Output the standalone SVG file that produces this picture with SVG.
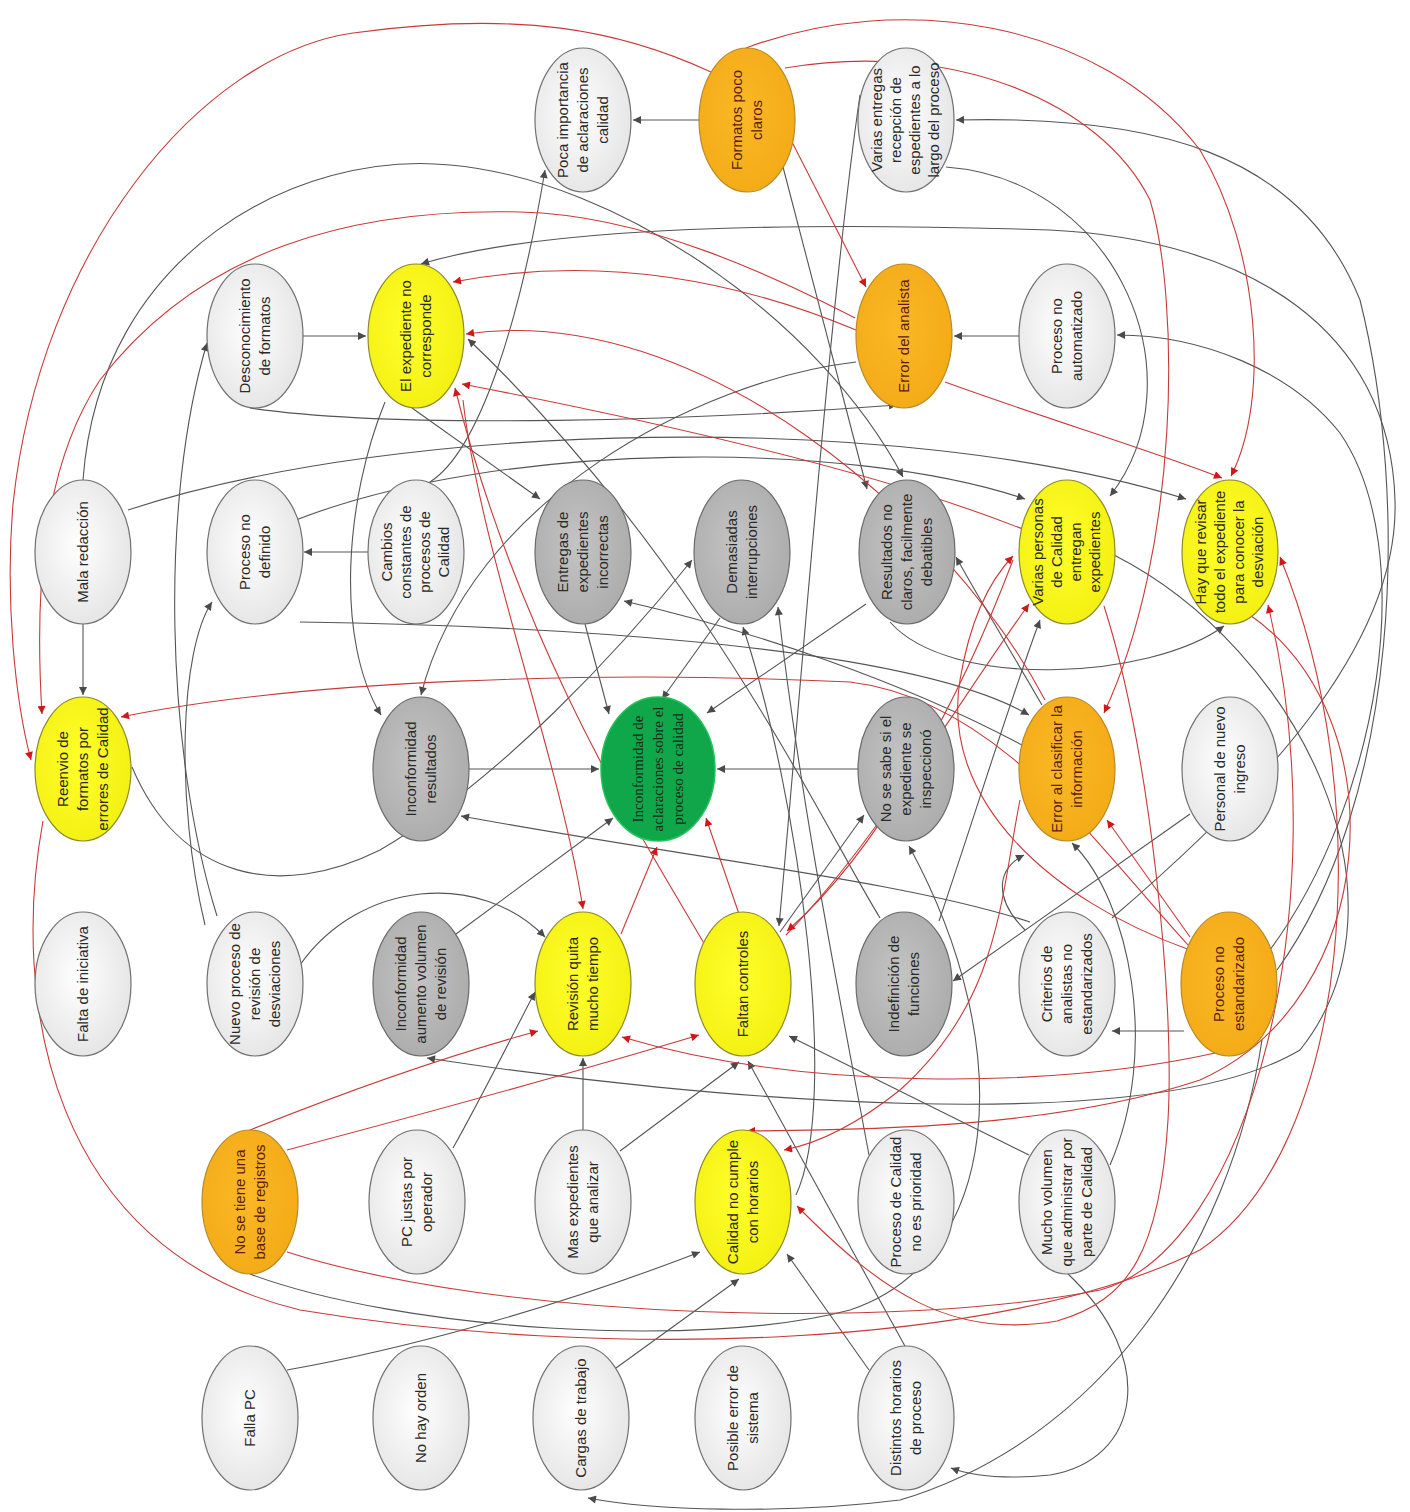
<svg xmlns="http://www.w3.org/2000/svg" width="1410" height="1512" viewBox="0 0 1410 1512">
<defs>
<radialGradient id="gLight" cx="45%" cy="45%" r="65%"><stop offset="0" stop-color="#ffffff"/><stop offset="1" stop-color="#e2e2e2"/></radialGradient>
<radialGradient id="gGray" cx="45%" cy="45%" r="65%"><stop offset="0" stop-color="#c4c4c4"/><stop offset="1" stop-color="#a9a9a9"/></radialGradient>
<radialGradient id="gYel" cx="45%" cy="45%" r="65%"><stop offset="0" stop-color="#ffff2a"/><stop offset="1" stop-color="#f2ee10"/></radialGradient>
<radialGradient id="gOr" cx="45%" cy="45%" r="65%"><stop offset="0" stop-color="#fbb826"/><stop offset="1" stop-color="#f3a916"/></radialGradient>
<marker id="ag" viewBox="0 0 10 10" refX="10" refY="5" markerWidth="10" markerHeight="8" markerUnits="userSpaceOnUse" orient="auto"><path d="M0,0 L10,5 L0,10 z" fill="#4a4a4a"/></marker>
<marker id="ar" viewBox="0 0 10 10" refX="10" refY="5" markerWidth="10" markerHeight="8" markerUnits="userSpaceOnUse" orient="auto"><path d="M0,0 L10,5 L0,10 z" fill="#d01818"/></marker>
</defs>
<style>
.g{fill:none;stroke:#555;stroke-width:1.1;marker-end:url(#ag)}
.r{fill:none;stroke:#c83a3a;stroke-width:1.1;marker-end:url(#ar)}
.nl{fill:url(#gLight);stroke:#707070;stroke-width:1.2}
.ng{fill:url(#gGray);stroke:#6a6a6a;stroke-width:1.2}
.ny{fill:url(#gYel);stroke:#8c8a2a;stroke-width:1.2}
.no{fill:url(#gOr);stroke:#b88a28;stroke-width:1.2}
.nc{fill:#10a64a;stroke:#22c35a;stroke-width:1.5}
text{font-family:"Liberation Sans",Arial,sans-serif;font-size:15px;fill:#2a2a2a;text-anchor:middle}
.to{fill:#5a1e0c}
.tc{font-family:"Liberation Serif","Times New Roman",serif;font-size:15px;fill:#1a2a1a}
</style>
<rect width="1410" height="1512" fill="#ffffff"/>
<g id="connectors">
<path class="g" d="M699,120 L633,120"/>
<path class="g" d="M303,336 L366,336"/>
<path class="g" d="M1019,336 L954,336"/>
<path class="g" d="M370,552 L304,552"/>
<path class="g" d="M83,624 L83,695"/>
<path class="g" d="M469,769 L599,769"/>
<path class="g" d="M858,769 L717,769"/>
<path class="g" d="M583,1130 L583,1058"/>
<path class="g" d="M1184,1031 L1112,1031"/>
<path class="g" d="M585,624 L609,714"/>
<path class="g" d="M720,618 L662,699"/>
<path class="g" d="M866,604 L707,713"/>
<path class="g" d="M430,482 C480,450 520,320 545,170"/>
<path class="g" d="M412,408 L540,499"/>
<path class="g" d="M385,402 C345,500 335,640 381,715"/>
<path class="g" d="M856,362 C700,380 470,500 421,695"/>
<path class="g" d="M250,408 C400,430 700,420 897,405"/>
<path class="g" d="M217,916 C165,750 160,500 207,343"/>
<path class="g" d="M205,925 C175,800 180,650 212,602"/>
<path class="g" d="M83,480 C100,250 300,150 450,165 C620,180 820,320 903,477"/>
<path class="g" d="M783,167 L867,489"/>
<path class="g" d="M860,95 C830,300 800,700 779,926"/>
<path class="g" d="M946,167 C1120,180 1200,380 1110,496"/>
<path class="g" d="M128,510 C400,420 900,410 1186,499"/>
<path class="g" d="M296,520 C500,440 850,440 1025,499"/>
<path class="g" d="M132,767 C180,880 280,900 380,850 C500,780 620,650 692,560"/>
<path class="g" d="M1112,918 C1250,800 1400,650 1395,500 C1390,330 1250,240 1050,230 C800,222 550,225 421,264"/>
<path class="g" d="M1277,970 C1400,800 1410,500 1360,300 C1300,150 1150,115 956,120"/>
<path class="g" d="M1270,950 C1380,800 1420,550 1340,433 C1290,370 1200,335 1117,335"/>
<path class="g" d="M1262,1040 C1230,1250 1100,1440 900,1500 C780,1515 650,1510 588,1498"/>
<path class="g" d="M1067,1273 C1160,1360 1140,1460 1050,1475 C1000,1480 970,1475 951,1468"/>
<path class="g" d="M453,1148 C480,1100 510,1040 535,992"/>
<path class="g" d="M620,1151 L739,1062"/>
<path class="g" d="M616,1368 L739,1279"/>
<path class="g" d="M287,1370 C400,1350 550,1310 700,1252"/>
<path class="g" d="M869,1370 L787,1254"/>
<path class="g" d="M906,1348 L748,1061"/>
<path class="g" d="M1029,1155 L789,1036"/>
<path class="g" d="M869,1155 C840,1000 800,800 778,607"/>
<path class="g" d="M796,1195 C840,1100 800,800 743,627"/>
<path class="g" d="M456,934 L613,818"/>
<path class="g" d="M300,965 C360,880 480,870 545,937"/>
<path class="g" d="M1030,922 C900,880 700,860 461,816"/>
<path class="g" d="M300,622 C500,625 900,640 1029,715"/>
<path class="g" d="M1022,745 C900,680 750,630 624,601"/>
<path class="g" d="M1042,705 C1010,650 980,600 956,557"/>
<path class="g" d="M1190,814 L953,981"/>
<path class="g" d="M880,918 C820,820 700,560 468,339"/>
<path class="g" d="M780,932 L864,815"/>
<path class="g" d="M250,1274 C400,1330 700,1350 850,1310 C1000,1260 1020,1050 909,846"/>
<path class="g" d="M890,622 C950,690 1150,680 1224,626"/>
<path class="g" d="M1114,555 C1300,650 1420,900 1300,1050 C1150,1140 700,1100 427,1058"/>
<path class="g" d="M939,921 C980,800 1010,700 1040,620"/>
<path class="g" d="M1110,1165 C1160,1050 1130,900 1072,843"/>
<path class="g" d="M1025,930 C995,900 995,870 1024,855"/>
<path class="r" d="M711,72 C620,30 520,10 353,33 C200,55 40,250 13,504 C5,600 15,700 31,760"/>
<path class="r" d="M855,318 C780,280 650,215 520,212 C350,208 200,250 100,380 C40,470 35,600 42,714"/>
<path class="r" d="M791,140 L866,287"/>
<path class="r" d="M746,48 C900,-10 1100,20 1200,150 C1260,250 1270,400 1231,476"/>
<path class="r" d="M785,68 C950,40 1100,100 1150,200 C1180,300 1180,550 1104,713"/>
<path class="r" d="M856,330 C760,290 620,250 453,282"/>
<path class="r" d="M1045,700 C950,520 700,300 466,334"/>
<path class="r" d="M945,382 C1050,420 1150,450 1222,478"/>
<path class="r" d="M705,945 C650,850 520,650 455,388"/>
<path class="r" d="M1025,530 C900,480 700,430 462,384"/>
<path class="r" d="M463,400 C480,550 560,760 583,909"/>
<path class="r" d="M621,934 L657,847"/>
<path class="r" d="M739,914 L706,818"/>
<path class="r" d="M250,1130 C350,1090 450,1055 538,1031"/>
<path class="r" d="M287,1150 C400,1120 550,1080 699,1035"/>
<path class="r" d="M786,935 C870,850 960,700 1029,604"/>
<path class="r" d="M1013,560 C960,700 880,850 787,931"/>
<path class="r" d="M1190,950 C1050,900 940,800 960,680 C970,620 990,580 1013,556"/>
<path class="r" d="M1190,937 L1107,820"/>
<path class="r" d="M1188,945 C1100,850 1000,700 850,682 C600,670 300,680 121,717"/>
<path class="r" d="M43,821 C10,1000 50,1250 300,1310 C600,1360 1000,1350 1200,1250 C1350,1150 1380,800 1280,557"/>
<path class="r" d="M287,1252 C500,1320 900,1330 1100,1290 C1250,1250 1340,900 1268,605"/>
<path class="r" d="M1104,606 C1150,750 1175,1000 1168,1120 C1160,1250 1130,1300 1057,1321 C950,1340 880,1290 797,1206"/>
<path class="r" d="M1215,1053 C1050,1090 800,1090 622,1037"/>
<path class="r" d="M1250,615 C1400,720 1380,1000 1200,1080 C1050,1130 850,1130 747,1131"/>
<path class="r" d="M1020,800 C1000,900 1000,1000 900,1090 C850,1130 810,1145 784,1150"/>
</g>
<g id="n-poca"><ellipse class="nl" cx="583" cy="120" rx="48" ry="72"/><text transform="translate(583,120) rotate(-90)"><tspan x="0" y="-15">Poca importancia</tspan><tspan x="0" y="5">de aclaraciones</tspan><tspan x="0" y="25">calidad</tspan></text></g>
<g id="n-formatos"><ellipse class="no" cx="747" cy="120" rx="48" ry="72"/><text class="to" transform="translate(747,120) rotate(-90)"><tspan x="0" y="-5">Formatos  poco</tspan><tspan x="0" y="15">claros</tspan></text></g>
<g id="n-varias-entregas"><ellipse class="nl" cx="906" cy="120" rx="48" ry="72"/><text transform="translate(906,120) rotate(-90)"><tspan x="0" y="-24">Varias entregas</tspan><tspan x="0" y="-5">recepción de</tspan><tspan x="0" y="14">espedientes a lo</tspan><tspan x="0" y="33">largo del proceso</tspan></text></g>
<g id="n-desconocimiento"><ellipse class="nl" cx="255" cy="336" rx="48" ry="72"/><text transform="translate(255,336) rotate(-90)"><tspan x="0" y="-5">Desconocimiento</tspan><tspan x="0" y="15">de formatos</tspan></text></g>
<g id="n-expediente"><ellipse class="ny" cx="416" cy="336" rx="48" ry="72"/><text transform="translate(416,336) rotate(-90)"><tspan x="0" y="-5">El expediente no</tspan><tspan x="0" y="15">corresponde</tspan></text></g>
<g id="n-error-analista"><ellipse class="no" cx="904" cy="336" rx="48" ry="72"/><text class="to" transform="translate(904,336) rotate(-90)"><tspan x="0" y="5">Error del analista</tspan></text></g>
<g id="n-no-automatizado"><ellipse class="nl" cx="1067" cy="336" rx="48" ry="72"/><text transform="translate(1067,336) rotate(-90)"><tspan x="0" y="-5">Proceso no</tspan><tspan x="0" y="15">automatizado</tspan></text></g>
<g id="n-mala"><ellipse class="nl" cx="83" cy="552" rx="48" ry="72"/><text transform="translate(83,552) rotate(-90)"><tspan x="0" y="5">Mala redacción</tspan></text></g>
<g id="n-no-definido"><ellipse class="nl" cx="255" cy="552" rx="48" ry="72"/><text transform="translate(255,552) rotate(-90)"><tspan x="0" y="-5">Proceso no</tspan><tspan x="0" y="15">definido</tspan></text></g>
<g id="n-cambios"><ellipse class="nl" cx="416" cy="552" rx="48" ry="72"/><text transform="translate(416,552) rotate(-90)"><tspan x="0" y="-24">Cambios</tspan><tspan x="0" y="-5">constantes de</tspan><tspan x="0" y="14">procesos de</tspan><tspan x="0" y="33">Calidad</tspan></text></g>
<g id="n-entregas"><ellipse class="ng" cx="583" cy="552" rx="48" ry="72"/><text transform="translate(583,552) rotate(-90)"><tspan x="0" y="-15">Entregas de</tspan><tspan x="0" y="5">expedientes</tspan><tspan x="0" y="25">incorrectas</tspan></text></g>
<g id="n-demasiadas"><ellipse class="ng" cx="742" cy="552" rx="48" ry="72"/><text transform="translate(742,552) rotate(-90)"><tspan x="0" y="-5">Demasiadas</tspan><tspan x="0" y="15">interrupciones</tspan></text></g>
<g id="n-resultados"><ellipse class="ng" cx="907" cy="552" rx="48" ry="72"/><text transform="translate(907,552) rotate(-90)"><tspan x="0" y="-15">Resultados no</tspan><tspan x="0" y="5">claros, facilmente</tspan><tspan x="0" y="25">debatibles</tspan></text></g>
<g id="n-varias-personas"><ellipse class="ny" cx="1067" cy="552" rx="48" ry="72"/><text transform="translate(1067,552) rotate(-90)"><tspan x="0" y="-24">Varias personas</tspan><tspan x="0" y="-5">de Calidad</tspan><tspan x="0" y="14">entregan</tspan><tspan x="0" y="33">expedientes</tspan></text></g>
<g id="n-hay-que-revisar"><ellipse class="ny" cx="1230" cy="552" rx="48" ry="72"/><text transform="translate(1230,552) rotate(-90)"><tspan x="0" y="-24">Hay que revisar</tspan><tspan x="0" y="-5">todo el expediente</tspan><tspan x="0" y="14">para conocer la</tspan><tspan x="0" y="33">desviación</tspan></text></g>
<g id="n-reenvio"><ellipse class="ny" cx="83" cy="769" rx="48" ry="72"/><text transform="translate(83,769) rotate(-90)"><tspan x="0" y="-15">Reenvio de</tspan><tspan x="0" y="5">formatos por</tspan><tspan x="0" y="25">errores de Calidad</tspan></text></g>
<g id="n-inconf-resultados"><ellipse class="ng" cx="421" cy="769" rx="48" ry="72"/><text transform="translate(421,769) rotate(-90)"><tspan x="0" y="-5">Inconformidad</tspan><tspan x="0" y="15">resultados</tspan></text></g>
<g id="n-central"><ellipse class="nc" cx="658" cy="769" rx="57" ry="72"/><text class="tc" transform="translate(658,769) rotate(-90)"><tspan x="0" y="-15">Inconformidad de</tspan><tspan x="0" y="5">aclaraciones sobre el</tspan><tspan x="0" y="25">proceso de calidad</tspan></text></g>
<g id="n-no-se-sabe"><ellipse class="ng" cx="906" cy="769" rx="48" ry="72"/><text transform="translate(906,769) rotate(-90)"><tspan x="0" y="-15">No se sabe si el</tspan><tspan x="0" y="5">expediente se</tspan><tspan x="0" y="25">inspeccionó</tspan></text></g>
<g id="n-error-clasificar"><ellipse class="no" cx="1067" cy="769" rx="48" ry="72"/><text class="to" transform="translate(1067,769) rotate(-90)"><tspan x="0" y="-5">Error al clasificar la</tspan><tspan x="0" y="15">información</tspan></text></g>
<g id="n-personal"><ellipse class="nl" cx="1230" cy="769" rx="48" ry="72"/><text transform="translate(1230,769) rotate(-90)"><tspan x="0" y="-5">Personal de nuevo</tspan><tspan x="0" y="15">ingreso</tspan></text></g>
<g id="n-falta-iniciativa"><ellipse class="nl" cx="83" cy="984" rx="48" ry="72"/><text transform="translate(83,984) rotate(-90)"><tspan x="0" y="5">Falta de iniciativa</tspan></text></g>
<g id="n-nuevo-proceso"><ellipse class="nl" cx="255" cy="984" rx="48" ry="72"/><text transform="translate(255,984) rotate(-90)"><tspan x="0" y="-15">Nuevo proceso de</tspan><tspan x="0" y="5">revisión de</tspan><tspan x="0" y="25">desviaciones</tspan></text></g>
<g id="n-inconf-aumento"><ellipse class="ng" cx="421" cy="984" rx="48" ry="72"/><text transform="translate(421,984) rotate(-90)"><tspan x="0" y="-15">Inconformidad</tspan><tspan x="0" y="5">aumento volumen</tspan><tspan x="0" y="25">de revisión</tspan></text></g>
<g id="n-revision"><ellipse class="ny" cx="583" cy="984" rx="48" ry="72"/><text transform="translate(583,984) rotate(-90)"><tspan x="0" y="-5">Revisión quita</tspan><tspan x="0" y="15">mucho tiempo</tspan></text></g>
<g id="n-faltan-controles"><ellipse class="ny" cx="743" cy="984" rx="48" ry="72"/><text transform="translate(743,984) rotate(-90)"><tspan x="0" y="5">Faltan controles</tspan></text></g>
<g id="n-indefinicion"><ellipse class="ng" cx="904" cy="984" rx="48" ry="72"/><text transform="translate(904,984) rotate(-90)"><tspan x="0" y="-5">Indefinición de</tspan><tspan x="0" y="15">funciones</tspan></text></g>
<g id="n-criterios"><ellipse class="nl" cx="1067" cy="984" rx="48" ry="72"/><text transform="translate(1067,984) rotate(-90)"><tspan x="0" y="-15">Criterios de</tspan><tspan x="0" y="5">analistas no</tspan><tspan x="0" y="25">estandarizados</tspan></text></g>
<g id="n-no-estandarizado"><ellipse class="no" cx="1229" cy="984" rx="48" ry="72"/><text class="to" transform="translate(1229,984) rotate(-90)"><tspan x="0" y="-5">Proceso no</tspan><tspan x="0" y="15">estandarizado</tspan></text></g>
<g id="n-no-se-tiene"><ellipse class="no" cx="250" cy="1202" rx="48" ry="72"/><text class="to" transform="translate(250,1202) rotate(-90)"><tspan x="0" y="-5">No se tiene una</tspan><tspan x="0" y="15">base de registros</tspan></text></g>
<g id="n-pc-justas"><ellipse class="nl" cx="417" cy="1202" rx="48" ry="72"/><text transform="translate(417,1202) rotate(-90)"><tspan x="0" y="-5">PC justas por</tspan><tspan x="0" y="15">operador</tspan></text></g>
<g id="n-mas-expedientes"><ellipse class="nl" cx="583" cy="1202" rx="48" ry="72"/><text transform="translate(583,1202) rotate(-90)"><tspan x="0" y="-5">Mas expedientes</tspan><tspan x="0" y="15">que analizar</tspan></text></g>
<g id="n-calidad-horarios"><ellipse class="ny" cx="743" cy="1202" rx="48" ry="72"/><text transform="translate(743,1202) rotate(-90)"><tspan x="0" y="-5">Calidad no cumple</tspan><tspan x="0" y="15">con horarios</tspan></text></g>
<g id="n-prioridad"><ellipse class="nl" cx="906" cy="1202" rx="48" ry="72"/><text transform="translate(906,1202) rotate(-90)"><tspan x="0" y="-5">Proceso de Calidad</tspan><tspan x="0" y="15">no es prioridad</tspan></text></g>
<g id="n-mucho-volumen"><ellipse class="nl" cx="1067" cy="1202" rx="48" ry="72"/><text transform="translate(1067,1202) rotate(-90)"><tspan x="0" y="-15">Mucho volumen</tspan><tspan x="0" y="5">que administrar por</tspan><tspan x="0" y="25">parte de Calidad</tspan></text></g>
<g id="n-falla-pc"><ellipse class="nl" cx="250" cy="1418" rx="48" ry="72"/><text transform="translate(250,1418) rotate(-90)"><tspan x="0" y="5">Falla PC</tspan></text></g>
<g id="n-no-hay-orden"><ellipse class="nl" cx="421" cy="1418" rx="48" ry="72"/><text transform="translate(421,1418) rotate(-90)"><tspan x="0" y="5">No hay orden</tspan></text></g>
<g id="n-cargas"><ellipse class="nl" cx="581" cy="1418" rx="48" ry="72"/><text transform="translate(581,1418) rotate(-90)"><tspan x="0" y="5">Cargas de trabajo</tspan></text></g>
<g id="n-posible-error"><ellipse class="nl" cx="743" cy="1418" rx="48" ry="72"/><text transform="translate(743,1418) rotate(-90)"><tspan x="0" y="-5">Posible error de</tspan><tspan x="0" y="15">sistema</tspan></text></g>
<g id="n-distintos-horarios"><ellipse class="nl" cx="906" cy="1418" rx="48" ry="72"/><text transform="translate(906,1418) rotate(-90)"><tspan x="0" y="-5">Distintos horarios</tspan><tspan x="0" y="15">de proceso</tspan></text></g>
</svg>
